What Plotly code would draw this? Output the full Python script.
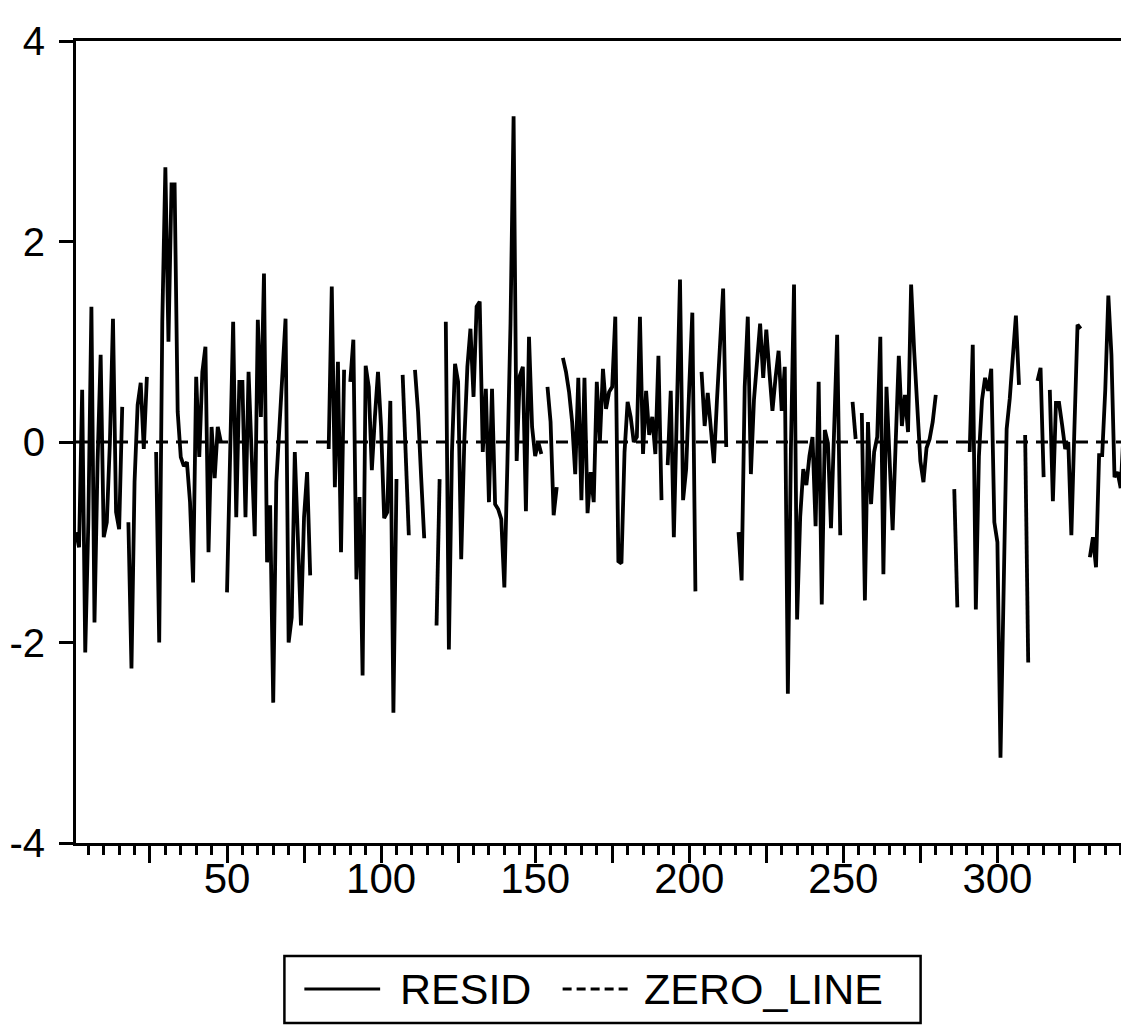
import plotly.graph_objects as go

# Observation index
obs = list(range(1, 345))

resid = [
    -0.9, -1.05, 0.52, -2.1, -0.8, 1.35, -1.8, -0.2, 0.87, -0.95,
    -0.8, 0.0, 1.23, -0.7, -0.87, 0.35, None, -0.8, -2.26, -0.4,
    0.37, 0.59, -0.07, 0.65, None, None, -0.1, -2.0, 1.2, 2.74,
    1.0, 2.57, 2.57, 0.3, -0.15, -0.24, -0.2, -0.6, -1.4, 0.65,
    -0.15, 0.7, 0.95, -1.1, 0.15, -0.36, 0.15, 0.0, None, -1.5,
    -0.15, 1.2, -0.75, 0.6, 0.6, -0.75, 0.7, -0.1, -0.94, 1.22,
    0.25, 1.68, -1.2, -0.63, -2.6, -0.4, 0.1, 0.7, 1.23, -2.0,
    -1.75, -0.1, -1.0, -1.83, -0.75, -0.3, -1.33, None, None, None,
    None, None, -0.07, 1.55, -0.45, 0.8, -1.1, 0.72, None, 0.6,
    1.02, -1.37, -0.55, -2.33, 0.76, 0.55, -0.28, 0.25, 0.7, 0.15,
    -0.76, -0.7, 0.41, -2.7, -0.37, None, 0.67, -0.05, -0.93, None,
    0.72, 0.3, -0.35, -0.96, None, None, None, -1.83, -0.37, None,
    1.2, -2.07, -0.1, 0.78, 0.6, -1.17, 0.0, 0.75, 1.13, 0.45,
    1.35, 1.4, -0.1, 0.53, -0.6, 0.53, -0.62, -0.67, -0.77, -1.45,
    -0.2, 1.18, 3.25, -0.19, 0.66, 0.75, -0.69, 1.05, 0.15, -0.14,
    0.0, -0.12, None, 0.55, 0.2, -0.73, -0.45, None, 0.84, 0.7,
    0.5, 0.2, -0.32, 0.64, -0.58, 0.64, -0.71, -0.3, -0.6, 0.6,
    0.0, 0.73, 0.33, 0.5, 0.55, 1.25, -1.19, -1.21, -0.1, 0.4,
    0.25, 0.0, 0.05, 1.25, -0.12, 0.51, 0.07, 0.25, -0.12, 0.86,
    -0.58, None, -0.23, 0.51, -0.95, 0.3, 1.62, -0.58, -0.27, 0.55,
    1.29, -1.49, None, 0.7, 0.16, 0.49, 0.12, -0.21, 0.42, 0.97,
    1.53, -0.05, None, None, None, -0.9, -1.38, 0.55, 1.25, -0.32,
    0.42, 0.8, 1.18, 0.64, 1.12, 0.7, 0.31, 0.64, 0.91, 0.31,
    0.75, -2.51, -0.05, 1.57, -1.77, -0.75, -0.27, -0.43, -0.14, 0.05,
    -0.84, 0.6, -1.62, 0.12, -0.01, -0.86, 0.1, 1.07, -0.93, None,
    None, None, 0.4, 0.03, None, 0.29, -1.58, 0.2, -0.62, -0.1,
    0.05, 1.05, -1.32, 0.55, -0.27, -0.88, 0.0, 0.86, 0.16, 0.47,
    0.1, 1.57, 0.9, 0.42, -0.19, -0.4, -0.06, 0.03, 0.2, 0.47,
    None, None, None, None, None, -0.47, -1.65, None, None, None,
    -0.1, 0.97, -1.67, -0.14, 0.42, 0.64, 0.51, 0.73, -0.8, -1.0,
    -3.15, -1.5, 0.13, 0.43, 0.83, 1.26, 0.57, None, 0.07, -2.2,
    None, None, 0.61, 0.74, -0.35, None, 0.52, -0.59, 0.39, 0.39,
    0.17, -0.07, 0.0, -0.93, 0.15, 1.17, 1.13, None, None, -1.15,
    -0.95, -1.25, -0.13, -0.13, 0.52, 1.46, 0.87, -0.35, -0.3, -0.46,
    0.13, -0.8, 0.1, 0.75,
]

# Zero reference line
zero_line = [0.0 for _ in obs]

# Series names (legend)
series_names = ["RESID", "ZERO_LINE"]

# Axis ticks
x_major_ticks = [25, 50, 75, 100, 125, 150, 175, 200, 225, 250, 275, 300, 325]
x_tick_labels = ["", "50", "", "100", "", "150", "", "200", "", "250", "", "300", ""]
y_ticks = [-4, -2, 0, 2, 4]
y_tick_labels = ["-4", "-2", "0", "2", "4"]

FONT = "Liberation Sans, Arial, Helvetica, sans-serif"
W, H = 1129, 1029
ML, MR, MT, MB = 68, 1, 33, 194
PW, PH = W - ML - MR, H - MT - MB


def px(xp):
    return (xp - ML) / PW


def py(yp):
    return (H - MB - yp) / PH


fig = go.Figure()
fig.add_trace(go.Scatter(
    x=obs, y=resid, mode="lines", name=series_names[0],
    line=dict(color="black", width=3.8), connectgaps=False,
))
fig.add_trace(go.Scatter(
    x=obs, y=zero_line, mode="lines", name=series_names[1],
    line=dict(color="black", width=3, dash="12px,8px"),
))

# Legend drawn as a framed box below the plot
leg_y = 981
shapes = [
    dict(type="rect", xref="paper", yref="paper",
         x0=px(277), x1=px(915), y0=py(1015), y1=py(948),
         line=dict(color="black", width=2.5), fillcolor="white"),
    dict(type="line", xref="paper", yref="paper",
         x0=px(297), x1=px(373), y0=py(leg_y), y1=py(leg_y),
         line=dict(color="black", width=3)),
    dict(type="line", xref="paper", yref="paper",
         x0=px(556), x1=px(626), y0=py(leg_y), y1=py(leg_y),
         line=dict(color="black", width=3, dash="9px,5px")),
]
annotations = [
    dict(text=series_names[0], xref="paper", yref="paper", x=px(391), y=py(leg_y),
         xanchor="left", yanchor="middle", showarrow=False,
         font=dict(family=FONT, size=43, color="black")),
    dict(text=series_names[1], xref="paper", yref="paper", x=px(636), y=py(leg_y),
         xanchor="left", yanchor="middle", showarrow=False,
         font=dict(family=FONT, size=43, color="black")),
]

fig.update_layout(
    width=W, height=H,
    margin=dict(l=ML, r=MR, t=MT, b=MB),
    plot_bgcolor="white", paper_bgcolor="white",
    font=dict(family=FONT, color="black"),
    showlegend=False,
    shapes=shapes,
    annotations=annotations,
)

fig.update_xaxes(
    range=[1, 344], showgrid=False, zeroline=False,
    showline=True, linecolor="black", linewidth=3, mirror=True,
    ticks="outside", tickvals=x_major_ticks, ticktext=x_tick_labels,
    ticklen=17, tickwidth=2.5, tickcolor="black",
    tickfont=dict(family=FONT, size=42, color="black"),
    ticklabelstandoff=-20,
    minor=dict(dtick=5, tick0=0, ticks="outside", ticklen=9,
               tickwidth=2.5, tickcolor="black", showgrid=False),
)
fig.update_yaxes(
    range=[-4, 4], showgrid=False, zeroline=False,
    showline=True, linecolor="black", linewidth=3, mirror=True,
    ticks="outside", tickvals=y_ticks, ticktext=y_tick_labels,
    ticklen=14, tickwidth=2.5, tickcolor="black",
    tickfont=dict(family=FONT, size=40, color="black"),
    ticklabelstandoff=6,
)

fig.write_html("out.html")
